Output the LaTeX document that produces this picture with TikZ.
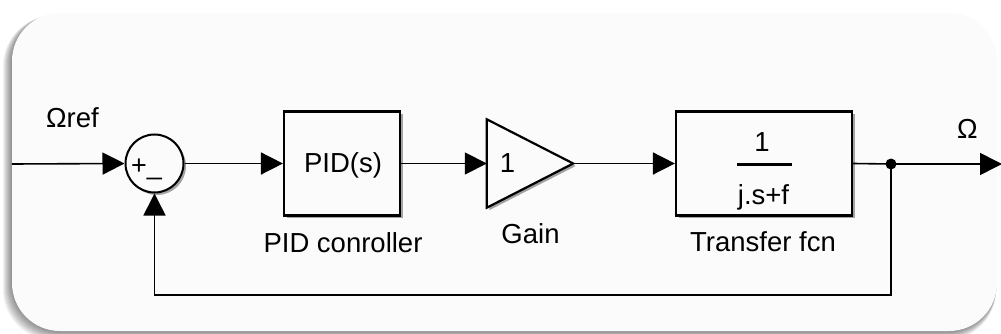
\documentclass[tikz,border=0pt]{standalone}
\usepackage{fontspec}
\setmainfont{Liberation Sans}
\usetikzlibrary{arrows.meta,shadows}

\definecolor{panelbg}{RGB}{251,251,251}

\begin{document}
\begin{tikzpicture}[x=1pt,y=-1pt,
  every node/.style={font=\fontsize{27.5}{32}\selectfont, inner sep=0pt},
  wire/.style={line width=1.6pt},
  sig/.style={wire, -{Triangle[length=22pt,width=22pt]}},
  blockshadow/.style={drop shadow={shadow xshift=2.5pt, shadow yshift=-2.5pt, fill=black, opacity=0.35}},
  block/.style={draw, line width=2.2pt, fill=panelbg, blockshadow},
  sumnode/.style={draw, circle, line width=2pt, fill=panelbg, minimum size=58pt, blockshadow},
  tapdot/.style={circle, fill=black, minimum size=11pt},
  caption/.style={anchor=base},
]
\useasboundingbox (0,0) rectangle (1001,334);
\clip (0,0) rectangle (1001,334);
\fill[white] (0,0) rectangle (1001,334);

% soft shadow under the panel
\foreach \k in {1,...,10}{
  \fill[black, opacity=0.05, rounded corners=50pt]
    ({12-0.9*\k},{13+0.3*\k}) rectangle ({997-0.1*\k},{331+0.9*\k});
}
\fill[panelbg, rounded corners=48pt] (12,13) rectangle (997,331);

% blocks
\node[sumnode] (sum) at (154.5,163.5) {};
\node[anchor=base west, font=\fontsize{27}{30}\selectfont] (signs) at (131,174.5) {+\_};

\node[block, minimum width=116pt, minimum height=104pt] (pid) at (342,163.5) {};
\node[caption] (pidtext) at (343,172) {PID(s)};
\node[caption] (pidlabel) at (343,252) {PID conroller};

\node[minimum width=86pt, minimum height=88pt] (gain) at (530,163.5) {};
\draw[block, line join=miter] (gain.north west) -- (gain.east) -- (gain.south west) -- cycle;
\node[caption] (gainval) at (507.5,172) {1};
\node[caption] (gainlabel) at (530.5,243) {Gain};

\node[block, minimum width=176pt, minimum height=104pt] (tf) at (764,163.5) {};
\node[caption] (tfnum) at (762,152) {1};
\draw[line width=2.2pt] (737,164.5) -- (792,164.5);
\node[caption] (tfden) at (763.5,204) {j.s+f};
\node[caption] (tflabel) at (763,251) {Transfer fcn};

% signals
\coordinate (in) at (12,164);
\coordinate (out) at (1002,164);
\coordinate (fbcorner) at (154.5,295);
\node[tapdot] (tap) at (891,164) {};

\node[caption] (reflabel) at (72.5,128) {Ωref};
\node[caption] (outlabel) at (967.5,139) {Ω};

\draw[sig] (in) -- (sum.west);
\draw[sig] (sum.east) -- (pid.west);
\draw[sig] (pid.east) -- (gain.west);
\draw[sig] (gain.east) -- (tf.west);
\draw[wire] (tf.east) -- (tap.center);
\draw[sig] (tap.center) -- (out);
\draw[sig] (tap.center) |- (fbcorner) -- (sum.south);
\end{tikzpicture}
\end{document}
